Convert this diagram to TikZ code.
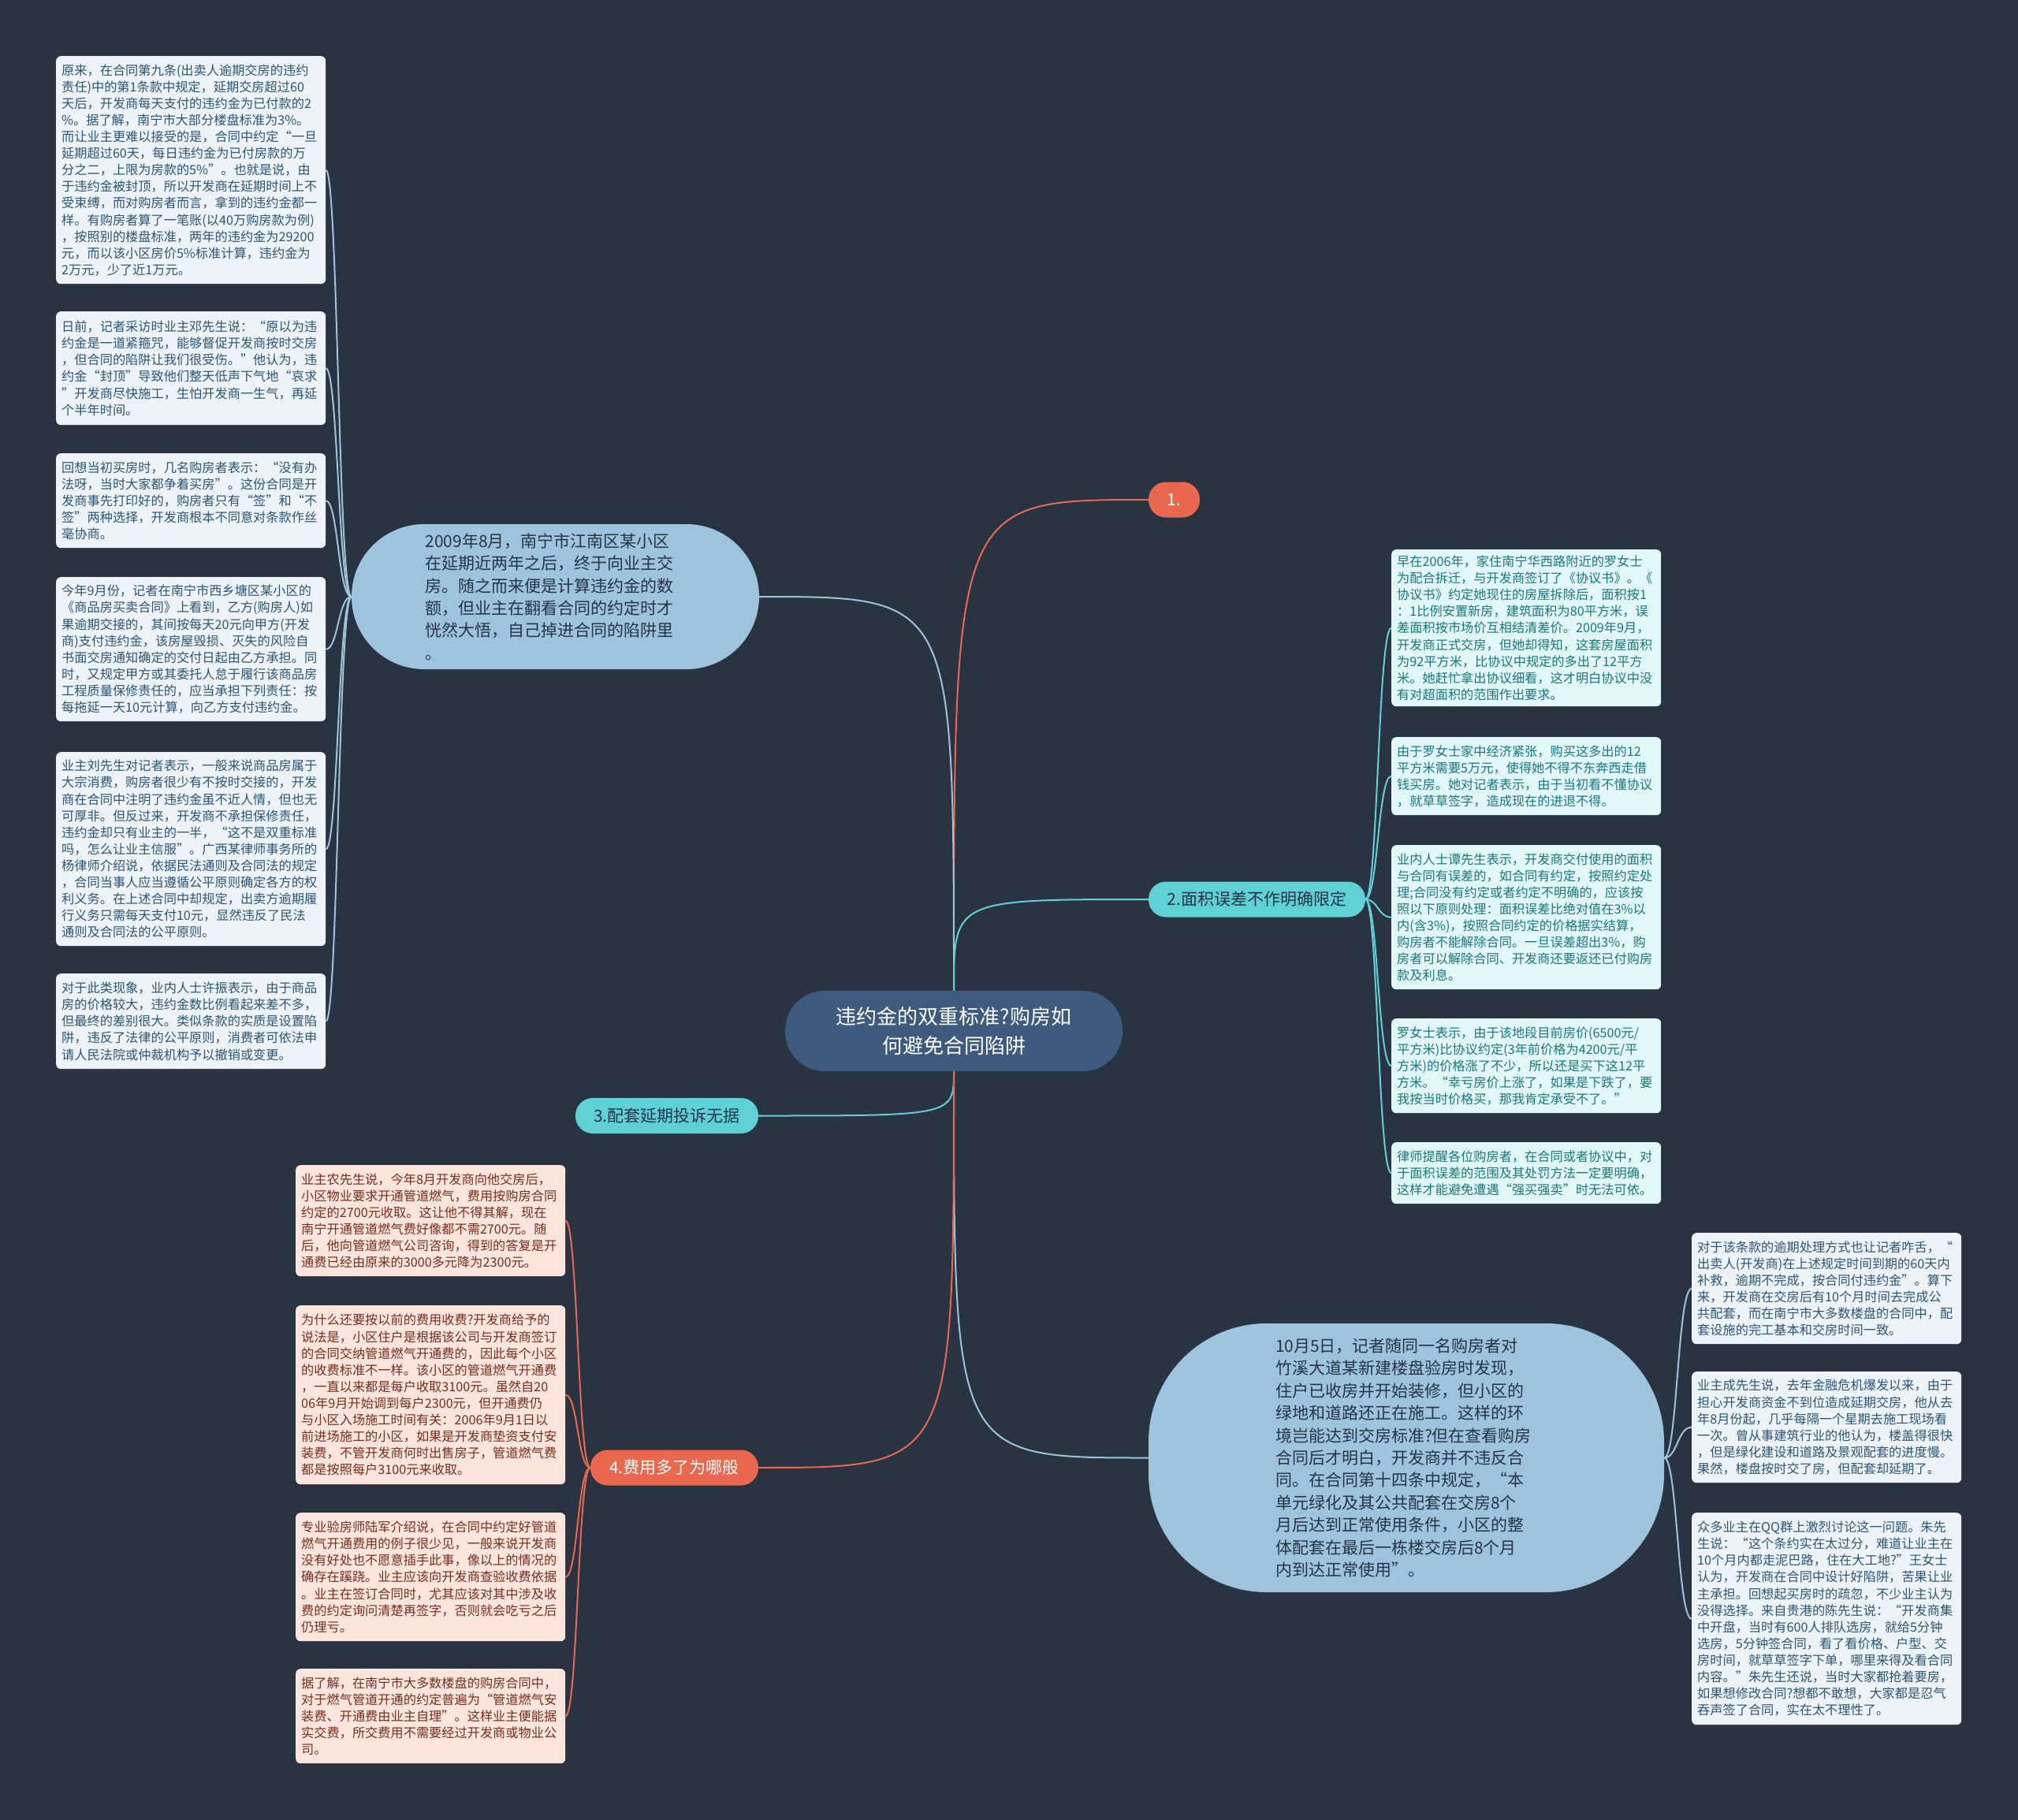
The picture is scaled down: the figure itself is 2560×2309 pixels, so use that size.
\documentclass[tikz,border=0pt]{standalone}
\usepackage{fontspec}
\newfontfamily\cjk{Noto Sans CJK SC}
\definecolor{bg}{RGB}{42,51,66}
\definecolor{orangeC}{RGB}{233,104,78}
\definecolor{tealC}{RGB}{95,208,214}
\definecolor{blueC}{RGB}{157,196,220}
\definecolor{centerC}{RGB}{62,90,126}
\definecolor{lboxF}{RGB}{236,243,249}
\definecolor{lboxT}{RGB}{45,85,118}
\definecolor{tboxF}{RGB}{226,247,248}
\definecolor{tboxT}{RGB}{25,120,125}
\definecolor{oboxF}{RGB}{252,229,221}
\definecolor{oboxT}{RGB}{120,45,30}
\definecolor{darkT}{RGB}{38,52,70}
\begin{document}
\begin{tikzpicture}[x=1pt,y=-1pt,
  boxbase/.style={rounded corners=6pt, anchor=north west, inner xsep=7pt, inner ysep=3pt,
    text width=328pt, minimum width=342pt, align=left,
    font=\cjk\fontsize{16.2pt}{21.1pt}\selectfont},
  lbox/.style={boxbase, fill=lboxF, text=lboxT},
  tbox/.style={boxbase, fill=tboxF, text=tboxT},
  obox/.style={boxbase, fill=oboxF, text=oboxT},
  bubble/.style={fill=blueC, text=darkT, align=left, inner sep=0pt,
    font=\cjk\fontsize{21pt}{28.4pt}\selectfont},
  branch/.style={rounded corners=22pt, minimum height=45pt, inner sep=0pt,
    font=\cjk\fontsize{21pt}{24pt}\selectfont},
  bl/.style={draw=blueC, line width=2pt},
  tl/.style={draw=tealC, line width=2pt},
  ol/.style={draw=orangeC, line width=2pt}]
\useasboundingbox (0,0) rectangle (2560,2309);
\fill[bg] (0,0) rectangle (2560,2309);

% ---------- central and first-level nodes ----------
\node[fill=centerC, text=white, rounded corners=50pt, minimum width=428pt, minimum height=102pt,
  align=center, font=\cjk\fontsize{26pt}{37pt}\selectfont] (cn) at (1210,1308)
  {违约金的双重标准?购房如\\何避免合同陷阱};

\node[branch, fill=orangeC, text=white, minimum width=65pt] (n1) at (1489.5,634) {1.};
\node[branch, fill=tealC, text=darkT, minimum width=275pt] (n2) at (1594.5,1141) {2.面积误差不作明确限定};
\node[branch, fill=tealC, text=darkT, minimum width=232pt] (n3) at (846,1415.5) {3.配套延期投诉无据};
\node[branch, fill=orangeC, text=white, minimum width=213pt] (n4) at (855.5,1862) {4.费用多了为哪般};

\node[bubble, rounded corners=92pt, minimum width=517pt, minimum height=184pt, text width=330pt] (bA) at (704.5,757)
  {2009年8月，南宁市江南区某小区\\在延期近两年之后，终于向业主交\\房。随之而来便是计算违约金的数\\额，但业主在翻看合同的约定时才\\恍然大悟，自己掉进合同的陷阱里\\。};
\node[bubble, rounded corners=150pt, minimum width=654pt, minimum height=341pt, text width=332pt] (bB) at (1784,1849.5)
  {10月5日，记者随同一名购房者对\\竹溪大道某新建楼盘验房时发现，\\住户已收房并开始装修，但小区的\\绿地和道路还正在施工。这样的环\\境岂能达到交房标准?但在查看购房\\合同后才明白，开发商并不违反合\\同。在合同第十四条中规定，“本\\单元绿化及其公共配套在交房8个\\月后达到正常使用条件，小区的整\\体配套在最后一栋楼交房后8个月\\内到达正常使用”。};

% ---------- left boxes (children of bubble A) ----------
\node[lbox, minimum height=289pt] (l1) at (71,71) {原来，在合同第九条(出卖人逾期交房的违约\\责任)中的第1条款中规定，延期交房超过60\\天后，开发商每天支付的违约金为已付款的2\\\%。据了解，南宁市大部分楼盘标准为3\%。\\而让业主更难以接受的是，合同中约定“一旦\\延期超过60天，每日违约金为已付房款的万\\分之二，上限为房款的5\%”。也就是说，由\\于违约金被封顶，所以开发商在延期时间上不\\受束缚，而对购房者而言，拿到的违约金都一\\样。有购房者算了一笔账(以40万购房款为例)\\，按照别的楼盘标准，两年的违约金为29200\\元，而以该小区房价5\%标准计算，违约金为\\2万元，少了近1万元。};
\node[lbox, minimum height=144pt] (l2) at (71,395) {日前，记者采访时业主邓先生说：“原以为违\\约金是一道紧箍咒，能够督促开发商按时交房\\，但合同的陷阱让我们很受伤。”他认为，违\\约金“封顶”导致他们整天低声下气地“哀求\\”开发商尽快施工，生怕开发商一生气，再延\\个半年时间。};
\node[lbox, minimum height=120pt] (l3) at (71,575) {回想当初买房时，几名购房者表示：“没有办\\法呀，当时大家都争着买房”。这份合同是开\\发商事先打印好的，购房者只有“签”和“不\\签”两种选择，开发商根本不同意对条款作丝\\毫协商。};
\node[lbox, minimum height=183pt] (l4) at (71,732) {今年9月份，记者在南宁市西乡塘区某小区的\\《商品房买卖合同》上看到，乙方(购房人)如\\果逾期交接的，其间按每天20元向甲方(开发\\商)支付违约金，该房屋毁损、灭失的风险自\\书面交房通知确定的交付日起由乙方承担。同\\时，又规定甲方或其委托人怠于履行该商品房\\工程质量保修责任的，应当承担下列责任：按\\每拖延一天10元计算，向乙方支付违约金。};
\node[lbox, minimum height=246pt] (l5) at (71,954) {业主刘先生对记者表示，一般来说商品房属于\\大宗消费，购房者很少有不按时交接的，开发\\商在合同中注明了违约金虽不近人情，但也无\\可厚非。但反过来，开发商不承担保修责任，\\违约金却只有业主的一半，“这不是双重标准\\吗，怎么让业主信服”。广西某律师事务所的\\杨律师介绍说，依据民法通则及合同法的规定\\，合同当事人应当遵循公平原则确定各方的权\\利义务。在上述合同中却规定，出卖方逾期履\\行义务只需每天支付10元，显然违反了民法\\通则及合同法的公平原则。};
\node[lbox, minimum height=121pt] (l6) at (71,1235) {对于此类现象，业内人士许振表示，由于商品\\房的价格较大，违约金数比例看起来差不多，\\但最终的差别很大。类似条款的实质是设置陷\\阱，违反了法律的公平原则，消费者可依法申\\请人民法院或仲裁机构予以撤销或变更。};

% ---------- right teal boxes (children of node 2) ----------
\node[tbox, minimum height=199pt] (r1) at (1765,697) {早在2006年，家住南宁华西路附近的罗女士\\为配合拆迁，与开发商签订了《协议书》。《\\协议书》约定她现住的房屋拆除后，面积按1\\：1比例安置新房，建筑面积为80平方米，误\\差面积按市场价互相结清差价。2009年9月，\\开发商正式交房，但她却得知，这套房屋面积\\为92平方米，比协议中规定的多出了12平方\\米。她赶忙拿出协议细看，这才明白协议中没\\有对超面积的范围作出要求。};
\node[tbox, minimum height=99pt] (r2) at (1765,935) {由于罗女士家中经济紧张，购买这多出的12\\平方米需要5万元，使得她不得不东奔西走借\\钱买房。她对记者表示，由于当初看不懂协议\\，就草草签字，造成现在的进退不得。};
\node[tbox, minimum height=183pt] (r3) at (1765,1072) {业内人士谭先生表示，开发商交付使用的面积\\与合同有误差的，如合同有约定，按照约定处\\理;合同没有约定或者约定不明确的，应该按\\照以下原则处理：面积误差比绝对值在3\%以\\内(含3\%)，按照合同约定的价格据实结算，\\购房者不能解除合同。一旦误差超出3\%，购\\房者可以解除合同、开发商还要返还已付购房\\款及利息。};
\node[tbox, minimum height=120pt] (r4) at (1765,1292) {罗女士表示，由于该地段目前房价(6500元/\\平方米)比协议约定(3年前价格为4200元/平\\方米)的价格涨了不少，所以还是买下这12平\\方米。“幸亏房价上涨了，如果是下跌了，要\\我按当时价格买，那我肯定承受不了。”};
\node[tbox, minimum height=78pt] (r5) at (1765,1449) {律师提醒各位购房者，在合同或者协议中，对\\于面积误差的范围及其处罚方法一定要明确，\\这样才能避免遭遇“强买强卖”时无法可依。};

% ---------- lower right boxes (children of bubble B) ----------
\node[lbox, minimum height=141pt] (q1) at (2146,1564) {对于该条款的逾期处理方式也让记者咋舌，“\\出卖人(开发商)在上述规定时间到期的60天内\\补救，逾期不完成，按合同付违约金”。算下\\来，开发商在交房后有10个月时间去完成公\\共配套，而在南宁市大多数楼盘的合同中，配\\套设施的完工基本和交房时间一致。};
\node[lbox, minimum height=141pt] (q2) at (2146,1740) {业主成先生说，去年金融危机爆发以来，由于\\担心开发商资金不到位造成延期交房，他从去\\年8月份起，几乎每隔一个星期去施工现场看\\一次。曾从事建筑行业的他认为，楼盖得很快\\，但是绿化建设和道路及景观配套的进度慢。\\果然，楼盘按时交了房，但配套却延期了。};
\node[lbox, minimum height=269pt] (q3) at (2146,1919) {众多业主在QQ群上激烈讨论这一问题。朱先\\生说：“这个条约实在太过分，难道让业主在\\10个月内都走泥巴路，住在大工地?”王女士\\认为，开发商在合同中设计好陷阱，苦果让业\\主承担。回想起买房时的疏忽，不少业主认为\\没得选择。来自贵港的陈先生说：“开发商集\\中开盘，当时有600人排队选房，就给5分钟\\选房，5分钟签合同，看了看价格、户型、交\\房时间，就草草签字下单，哪里来得及看合同\\内容。”朱先生还说，当时大家都抢着要房，\\如果想修改合同?想都不敢想，大家都是忍气\\吞声签了合同，实在太不理性了。};

% ---------- orange boxes (children of node 4) ----------
\node[obox, minimum height=141pt] (o1) at (375,1478) {业主农先生说，今年8月开发商向他交房后，\\小区物业要求开通管道燃气，费用按购房合同\\约定的2700元收取。这让他不得其解，现在\\南宁开通管道燃气费好像都不需2700元。随\\后，他向管道燃气公司咨询，得到的答复是开\\通费已经由原来的3000多元降为2300元。};
\node[obox, minimum height=227pt] (o2) at (375,1656) {为什么还要按以前的费用收费?开发商给予的\\说法是，小区住户是根据该公司与开发商签订\\的合同交纳管道燃气开通费的，因此每个小区\\的收费标准不一样。该小区的管道燃气开通费\\，一直以来都是每户收取3100元。虽然自20\\06年9月开始调到每户2300元，但开通费仍\\与小区入场施工时间有关：2006年9月1日以\\前进场施工的小区，如果是开发商垫资支付安\\装费，不管开发商何时出售房子，管道燃气费\\都是按照每户3100元来收取。};
\node[obox, minimum height=163pt] (o3) at (375,1919) {专业验房师陆军介绍说，在合同中约定好管道\\燃气开通费用的例子很少见，一般来说开发商\\没有好处也不愿意插手此事，像以上的情况的\\确存在蹊跷。业主应该向开发商查验收费依据\\。业主在签订合同时，尤其应该对其中涉及收\\费的约定询问清楚再签字，否则就会吃亏之后\\仍理亏。};
\node[obox, minimum height=120pt] (o4) at (375,2117) {据了解，在南宁市大多数楼盘的购房合同中，\\对于燃气管道开通的约定普遍为“管道燃气安\\装费、开通费由业主自理”。这样业主便能据\\实交费，所交费用不需要经过开发商或物业公\\司。};

% ---------- connectors ----------
\draw[ol] (cn.north) .. controls (cn.north |- n1.west) .. (n1.west);
\draw[bl] (cn.north) .. controls (cn.north |- bA.east) .. (bA.east);
\draw[tl] (cn.north) .. controls (cn.north |- n2.west) .. (n2.west);
\draw[tl] (cn.south) .. controls (cn.south |- n3.east) .. (n3.east);
\draw[bl] (cn.south) .. controls (cn.south |- bB.west) .. (bB.west);
\draw[ol] (cn.south) .. controls (cn.south |- n4.east) .. (n4.east);

\coordinate (mA) at (429,0);
\coordinate (mB) at (2128,0);
\coordinate (m2) at (1748,0);
\coordinate (m4) at (733,0);
\foreach \c in {l1,l2,l3,l4,l5,l6}
  \draw[bl] (bA.west) .. controls (mA |- bA.west) and (mA |- \c.east) .. (\c.east);
\foreach \c in {r1,r2,r3,r4,r5}
  \draw[tl] (n2.east) .. controls (m2 |- n2.east) and (m2 |- \c.west) .. (\c.west);
\foreach \c in {q1,q2,q3}
  \draw[bl] (bB.east) .. controls (mB |- bB.east) and (mB |- \c.west) .. (\c.west);
\foreach \c in {o1,o2,o3,o4}
  \draw[ol] (n4.west) .. controls (m4 |- n4.west) and (m4 |- \c.east) .. (\c.east);
\end{tikzpicture}
\end{document}
